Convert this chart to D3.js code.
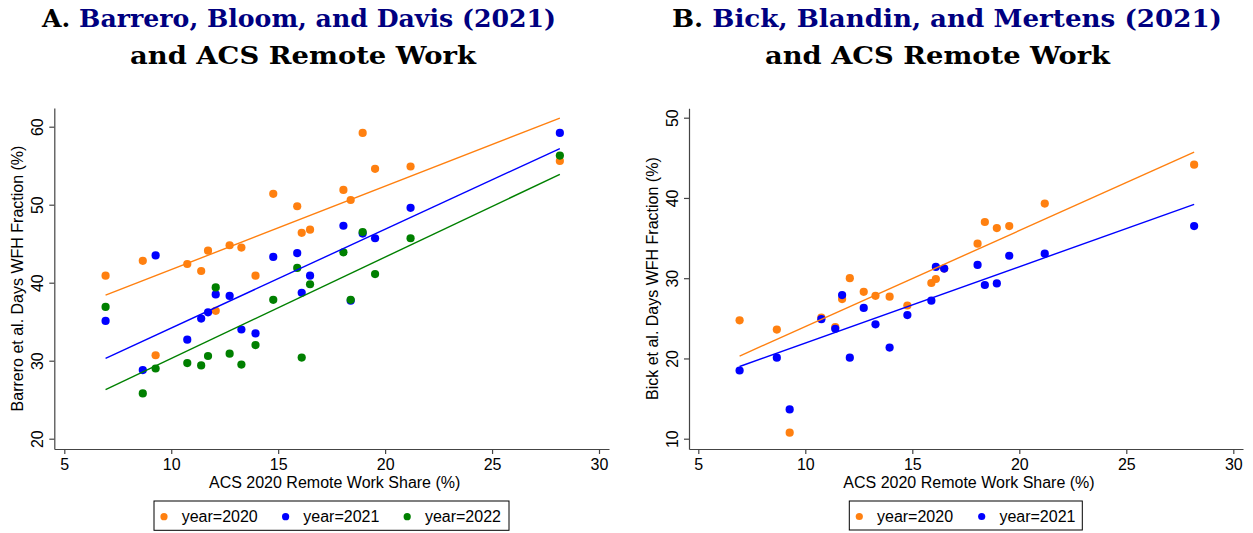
<!DOCTYPE html>
<html>
<head>
<meta charset="utf-8">
<script src="https://cdn.jsdelivr.net/npm/d3@7"></script>
<style>
  body { margin: 0; background: #fff; }
  svg text { font-family: "Liberation Sans", Arial, Helvetica, sans-serif; }
</style>
</head>
<body>
<div id="chart"></div>
<script>
// ACS 2020 remote work share (%), one value per area, shared by both panels
const acsShare = [6.93, 8.67, 9.27, 10.75, 11.40, 11.72, 12.08, 12.73, 13.28, 13.94,
  14.77, 15.89, 16.10, 16.49, 18.05, 18.39, 18.95, 19.53, 21.19, 28.17];

// Panel A: Barrero, Bloom and Davis days WFH fraction (%)
const bbd2020 = [40.9, 42.8, 30.7, 42.4, 41.5, 44.1, 36.4, 44.8, 44.5, 40.9,
  51.4, 49.8, 46.4, 46.8, 51.9, 50.6, 59.2, 54.6, 54.9, 55.6];
const bbd2021 = [35.1, 28.8, 43.5, 32.7, 35.4, 36.2, 38.5, 38.3, 34.0, 33.5,
  43.3, 43.8, 38.7, 40.9, 47.3, 37.7, 46.3, 45.7, 49.6, 59.2];
const bbd2022 = [36.9, 25.8, 29.0, 29.7, 29.4, 30.6, 39.4, 30.9, 29.5, 32.0,
  37.8, 41.9, 30.4, 39.8, 43.9, 37.8, 46.5, 41.1, 45.7, 56.3];
// linear fit, fitted value at the lowest and the highest share
const bbdFit2020 = [38.4, 61.1];
const bbdFit2021 = [30.3, 57.2];
const bbdFit2022 = [26.3, 53.9];

// Panel B: Bick, Blandin and Mertens days WFH fraction (%)
const bbm2020 = [24.75, 23.6, 10.75, 25.1, 23.9, 27.4, 30.0, 28.3, 27.8, 27.7,
  26.6, 29.4, 29.9, 31.2, 34.3, 37.0, 36.25, 36.5, 39.3, 44.15];
const bbm2021 = [18.5, 20.1, 13.65, 24.9, 23.7, 27.9, 20.1, 26.3, 24.25, 21.35,
  25.4, 27.2, 31.4, 31.2, 31.65, 29.15, 29.35, 32.8, 33.05, 36.5];
const bbmFit2020 = [20.3, 45.7];
const bbmFit2021 = [19.0, 39.2];

const xTicks = [5, 10, 15, 20, 25, 30];
const yTicksA = [20, 30, 40, 50, 60];
const yTicksB = [10, 20, 30, 40, 50];

const orange = "#ff8010", blue = "#0000ff", green = "#008000", navy = "#000080";

const width = 1253, height = 533;
const svg = d3.select("#chart").append("svg")
  .attr("width", width)
  .attr("height", height)
  .attr("viewBox", [0, 0, width, height]);

function ScatterFitPanel(
  svg,
  {
    x = acsShare, // shared x values
    series = [], // [{label, color, values, fit}]
    xDomain = [5, 30],
    xRange, // pixels for xDomain ends
    xExtent, // pixels where the axis line starts / ends
    yDomain,
    yRange,
    yExtent, // [bottom, top] pixels of the axis line
    yTicks,
    xLabel = "ACS 2020 Remote Work Share (%)",
    yLabel,
    legendBox, // [x0, y0, x1, y1]
    legendStep = 122,
    r = 4.1,
  } = {}
) {
  const xs = d3.scaleLinear(xDomain, xRange);
  const ys = d3.scaleLinear(yDomain, yRange);
  // copies stretched to the axis line ends (same mapping)
  const xAxisScale = d3.scaleLinear(xExtent.map(xs.invert), xExtent);
  const yAxisScale = d3.scaleLinear(yExtent.map(ys.invert), yExtent);
  const x0 = xExtent[0], yBottom = yExtent[0];

  const xAxis = d3.axisBottom(xAxisScale).tickValues(xTicks).tickSize(5).tickSizeOuter(0).tickPadding(5);
  const yAxis = d3.axisLeft(yAxisScale).tickValues(yTicks).tickSize(5).tickSizeOuter(0);

  svg.append("g")
    .attr("transform", `translate(0,${yBottom})`)
    .call(xAxis)
    .call((g) => g.selectAll("text").attr("font-size", 16).attr("font-family", null).attr("fill", "#000"))
    .call((g) => g.selectAll("path, line").attr("stroke", "#444").attr("stroke-width", 1.2));

  svg.append("g")
    .attr("transform", `translate(${x0},0)`)
    .call(yAxis)
    .call((g) => g.selectAll("path, line").attr("stroke", "#444").attr("stroke-width", 1.2))
    .call((g) =>
      g.selectAll("text")
        .attr("x", null)
        .attr("dy", null)
        .attr("font-size", 16)
        .attr("font-family", null)
        .attr("fill", "#000")
        .attr("text-anchor", "middle")
        .attr("transform", "translate(-11.5,0) rotate(-90)")
    );

  // axis titles
  svg.append("text")
    .attr("x", (xExtent[0] + xExtent[1]) / 2 + 3)
    .attr("y", yBottom + 38.7)
    .attr("font-size", 16)
    .attr("text-anchor", "middle")
    .text(xLabel);

  svg.append("text")
    .attr("transform", `translate(${x0 - 31},${(yExtent[0] + yExtent[1]) / 2}) rotate(-90)`)
    .attr("font-size", 16)
    .attr("text-anchor", "middle")
    .text(yLabel);

  // dots
  series.forEach((s) => {
    svg.append("g")
      .attr("fill", s.color)
      .selectAll("circle")
      .data(s.values)
      .join("circle")
      .attr("cx", (d, i) => xs(x[i]))
      .attr("cy", (d) => ys(d))
      .attr("r", r);
  });

  // fitted lines
  const [xMin, xMax] = d3.extent(x);
  const line = d3.line().x((d) => xs(d[0])).y((d) => ys(d[1]));
  series.forEach((s) => {
    svg.append("path")
      .attr("fill", "none")
      .attr("stroke", s.color)
      .attr("stroke-width", 1.4)
      .attr("d", line([[xMin, s.fit[0]], [xMax, s.fit[1]]]));
  });

  // legend
  const [lx0, ly0, lx1, ly1] = legendBox;
  svg.append("rect")
    .attr("x", lx0).attr("y", ly0)
    .attr("width", lx1 - lx0).attr("height", ly1 - ly0)
    .attr("fill", "#fff").attr("stroke", "#000").attr("stroke-width", 1);
  const ly = (ly0 + ly1) / 2 + 1;
  const item = svg.append("g")
    .selectAll("g")
    .data(series)
    .join("g")
    .attr("transform", (d, i) => `translate(${lx0 + 10 + i * legendStep},${ly})`);
  item.append("circle").attr("r", r - 0.5).attr("fill", (d) => d.color);
  item.append("text")
    .attr("x", 17.7)
    .attr("y", 5.7)
    .attr("font-size", 16)
    .text((d) => d.label);
}

function drawTitle(svg, lines) {
  lines.forEach(({ cx, y, w, parts }) => {
    const t = svg.append("text")
      .attr("x", cx)
      .attr("y", y)
      .attr("text-anchor", "middle")
      .attr("font-weight", "bold")
      .attr("font-size", 25)
      .style("font-family", "'DejaVu Serif', serif");
    parts.forEach(([txt, col]) => t.append("tspan").attr("fill", col).text(txt));
    t.attr("textLength", w).attr("lengthAdjust", "spacingAndGlyphs");
  });
}

ScatterFitPanel(svg, {
  series: [
    { label: "year=2020", color: orange, values: bbd2020, fit: bbdFit2020 },
    { label: "year=2021", color: blue, values: bbd2021, fit: bbdFit2021 },
    { label: "year=2022", color: green, values: bbd2022, fit: bbdFit2022 },
  ],
  xRange: [64.3, 599],
  xExtent: [54.3, 609],
  yDomain: [20, 60],
  yRange: [438.7, 126.7],
  yExtent: [449, 108],
  yTicks: yTicksA,
  yLabel: "Barrero et al. Days WFH Fraction (%)",
  legendBox: [154, 501, 509, 530.3],
  legendStep: 121.6,
});

ScatterFitPanel(svg, {
  series: [
    { label: "year=2020", color: orange, values: bbm2020, fit: bbmFit2020 },
    { label: "year=2021", color: blue, values: bbm2021, fit: bbmFit2021 },
  ],
  xRange: [698.3, 1233.3],
  xExtent: [689, 1243],
  yDomain: [10, 50],
  yRange: [438.7, 117.7],
  yExtent: [449, 108.3],
  yTicks: yTicksB,
  yLabel: "Bick et al. Days WFH Fraction (%)",
  legendBox: [849.3, 501, 1082.3, 530],
  legendStep: 122.4,
});

drawTitle(svg, [
  { cx: 299, y: 27, w: 514, parts: [["A. ", "#000"], ["Barrero, Bloom, and Davis (2021)", navy]] },
  { cx: 303, y: 64, w: 346, parts: [["and ACS Remote Work", "#000"]] },
  { cx: 947, y: 27, w: 550, parts: [["B. ", "#000"], ["Bick, Blandin, and Mertens (2021)", navy]] },
  { cx: 937.5, y: 64, w: 345, parts: [["and ACS Remote Work", "#000"]] },
]);
</script>
</body>
</html>
